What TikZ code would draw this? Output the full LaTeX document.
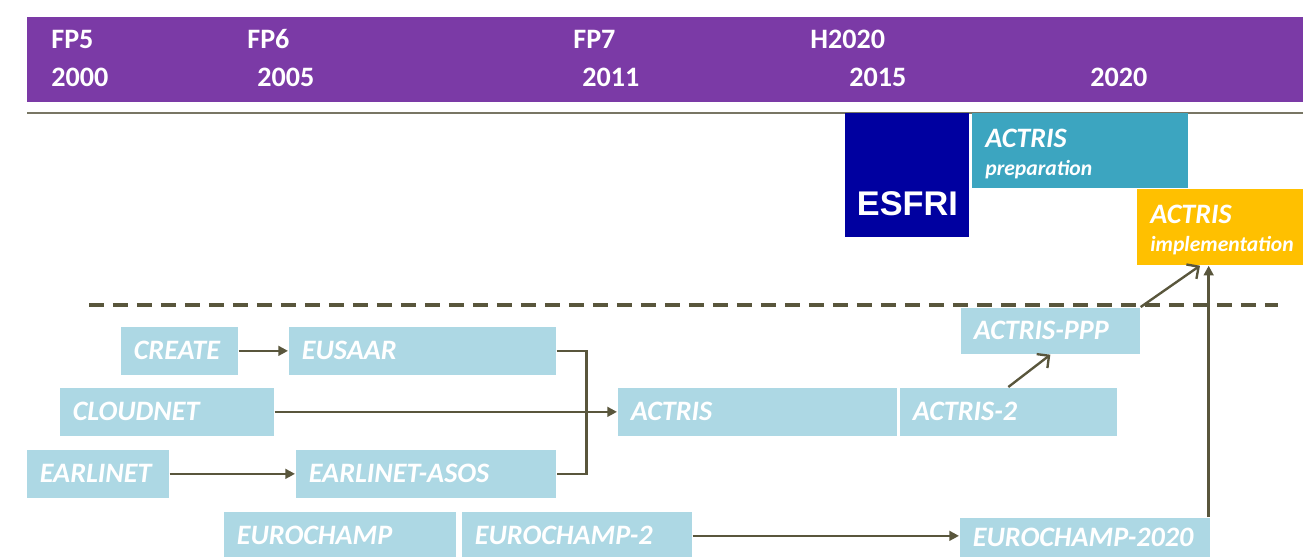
\documentclass[tikz,border=0pt]{standalone}
\usepackage{fontspec}
\setmainfont{Carlito}
\newfontfamily\esfrifont{Liberation Sans}
\usetikzlibrary{arrows.meta,positioning}
\definecolor{barpurple}{RGB}{123,58,166}
\definecolor{lightbox}{RGB}{173,216,228}
\definecolor{prepblue}{RGB}{60,165,192}
\definecolor{implyellow}{RGB}{255,192,0}
\definecolor{esfriblue}{RGB}{0,0,160}
\definecolor{linkolive}{RGB}{89,86,60}
\definecolor{rulegray}{RGB}{120,118,100}
\newcommand\phasesub{\fontsize{12.3}{14}\selectfont}

\begin{document}
\begin{tikzpicture}[x=0.02cm,y=-0.02cm,
  year/.style={anchor=base west,inner sep=0pt,text=white,font=\fontsize{16}{19}\selectfont\bfseries},
  proj/.style={anchor=north west,fill=lightbox,draw=white,line width=0.4pt,inner xsep=0.27cm,inner ysep=0pt,
    minimum height=0.98cm,text width=#1,align=left,text=white,
    font=\fontsize{16}{19}\selectfont\bfseries\itshape,
    execute at begin node={\exhyphenpenalty=10000\relax}},
  phase/.style={anchor=north west,inner xsep=0.26cm,inner ysep=0pt,text width=#1,align=left,text=white,
    text height=0.68cm,font=\fontsize{16}{16}\selectfont\bfseries\itshape},
  link/.style={draw=linkolive,line width=1.35pt,-{Triangle[length=5.5pt,width=5.5pt]}},
  barb/.style={draw=linkolive,line width=1.35pt,-{Straight Barb[length=5pt,width=10pt]}},
  plain/.style={draw=linkolive,line width=1.35pt}]
\clip (0,0) rectangle (1303,556);

% timeline bar
\fill[barpurple] (27,17) rectangle (1310,102);
\draw[rulegray,line width=0.6pt] (27,113) -- (1303,113);
\node[year] (fp5) at (51,48) {FP5};
\node[year] (y2000) at (51,86) {2000};
\node[year] (fp6) at (247,48) {FP6};
\node[year] (y2005) at (257,86) {2005};
\node[year] (fp7) at (573,48) {FP7};
\node[year] (y2011) at (582,86) {2011};
\node[year] (h2020) at (810,48) {H2020};
\node[year] (y2015) at (849,86) {2015};
\node[year] (y2020) at (1090,86) {2020};

% infrastructure phases
\node[anchor=north west,fill=esfriblue,minimum width=2.48cm,minimum height=2.48cm,inner sep=0pt,
  text height=2.04cm,text depth=0.44cm,text=white,font=\esfrifont\bfseries\fontsize{19.5}{22}\selectfont]
  (esfri) at (845,113) {ESFRI};
\node[phase=3.80cm,fill=prepblue,text depth=0.82cm] (prep) at (972,113)
  {ACTRIS\\ {\phasesub preparation}};
\node[phase=3.20cm,fill=implyellow,text depth=0.84cm] (impl) at (1137,189)
  {ACTRIS\\ {\phasesub implementation}};

\draw[linkolive,line width=0.08cm,dash pattern=on 0.3cm off 0.18cm] (89,305) -- (1278,305);

% projects
\node[proj=1.82cm] (create) at (120,326) {CREATE};
\node[proj=4.82cm] (eusaar) at (288,326) {EUSAAR};
\node[proj=3.76cm] (cloudnet) at (59,387) {CLOUDNET};
\node[proj=5.06cm] (actris) at (617,387) {ACTRIS};
\node[proj=3.82cm] (actris2) at (899,387) {ACTRIS-2};
\node[proj=3.06cm,minimum height=0.94cm] (ppp) at (960,307) {ACTRIS-PPP};
\node[proj=2.32cm] (earlinet) at (26,449) {EARLINET};
\node[proj=4.68cm] (asos) at (295,449) {EARLINET-ASOS};
\node[proj=4.12cm] (eurochamp) at (223,511) {EUROCHAMP};
\node[proj=4.08cm] (eurochamp2) at (461,511) {EUROCHAMP-2};
\node[proj=4.48cm,minimum height=0.8cm] (e2020) at (959,517) {EUROCHAMP-2020};

\draw[link] (create.east) -- (eusaar.west);
\draw[link] (earlinet.east) -- (asos.west);
\draw[plain] (eusaar.east) -- ++(30,0) |- (asos.east);
\draw[link] (cloudnet.east) -- (actris.west);
\draw[link] (eurochamp2.east) -- (eurochamp2.east -| e2020.west);
\draw[barb] (actris2.north) -- (ppp.south);
\draw[barb] (ppp.north east) -- ([xshift=1.26cm]impl.south west);
\coordinate (feed) at ([xshift=-0.04cm]e2020.north east);
\draw[link] (feed) -- (feed |- impl.south);
\end{tikzpicture}
\end{document}
